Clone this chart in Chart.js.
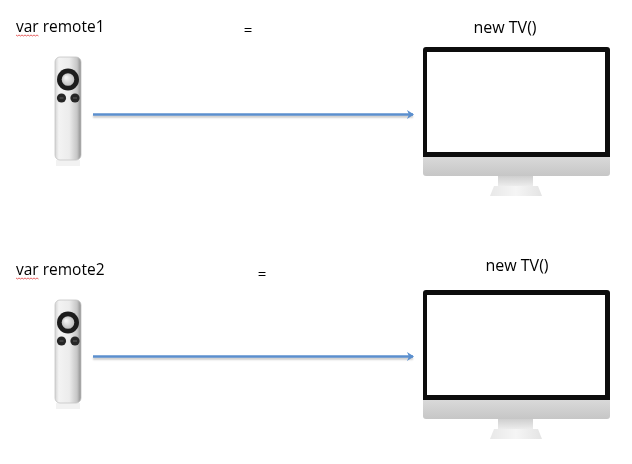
<!DOCTYPE html>
<html>
<head>
<meta charset="utf-8">
<script src="https://cdn.jsdelivr.net/npm/chart.js@4"></script>
<style>
  html, body { margin: 0; padding: 0; background: #fff; overflow: hidden; }
  canvas { display: block; }
</style>
</head>
<body>
<canvas id="diagram" width="632" height="464"></canvas>
<script>
// one row per remote -> TV assignment
const rowNames = ["var remote1", "var remote2"];
const tvNames = ["new TV()", "new TV()"];
const arrowStart = [93, 93];
const arrowEnd = [413, 413];
const arrowLevel = [114.5, 356.5];
const nameBase = [32, 275];
const equalsX = [248, 262];
const equalsY = [31, 275];
const tvNameX = [505, 517];
const tvNameY = [28, 266];
const remoteTop = [57, 300];
const screenTop = [47, 290];

const diagramPlugin = {
  id: "diagram",
  beforeDatasetDraw(chart) {
    const ctx = chart.ctx;
    ctx.save();
    ctx.shadowColor = "rgba(0,0,0,0.22)";
    ctx.shadowOffsetY = 2;
    ctx.shadowBlur = 2;
  },
  afterDatasetDraw(chart, args) {
    const ctx = chart.ctx;
    ctx.restore();
    // arrow head at the end of the line
    const pts = args.meta.data;
    const end = pts[pts.length - 1];
    ctx.save();
    ctx.fillStyle = "#5b8fce";
    ctx.beginPath();
    ctx.moveTo(end.x + 1, end.y);
    ctx.lineTo(end.x - 6, end.y - 4.5);
    ctx.lineTo(end.x - 4, end.y);
    ctx.lineTo(end.x - 6, end.y + 4.5);
    ctx.closePath();
    ctx.fill();
    ctx.restore();
  },
  beforeDatasetsDraw(chart) {
    const ctx = chart.ctx;
    const sx = chart.scales.x, sy = chart.scales.y;
    const px = v => sx.getPixelForValue(v);
    const py = v => sy.getPixelForValue(v);

    rowNames.forEach((name, i) => {
      // remote
      const rt = remoteTop[i];
      const x0 = px(55), x1 = px(81), y0 = py(rt), y1 = py(rt + 103);
      const shade = ctx.createLinearGradient(x0, 0, x1, 0);
      shade.addColorStop(0, "#d4d4d4");
      shade.addColorStop(0.15, "#f3f3f3");
      shade.addColorStop(0.55, "#ececec");
      shade.addColorStop(0.85, "#c6c6c6");
      shade.addColorStop(1, "#8c8c8c");
      ctx.fillStyle = "rgba(0,0,0,0.05)";
      ctx.fillRect(x0 + 1, y1, x1 - x0 - 2, 6);
      ctx.fillStyle = shade;
      ctx.strokeStyle = "#c4c4c4";
      ctx.lineWidth = 0.8;
      ctx.beginPath();
      ctx.roundRect(x0, y0, x1 - x0, y1 - y0, 5);
      ctx.fill();
      ctx.stroke();

      const cx = px(68), cy = py(rt + 22.5);
      ctx.fillStyle = "#1c1c1c";
      ctx.beginPath();
      ctx.arc(cx, cy, 11, 0, Math.PI * 2);
      ctx.fill();
      const inner = ctx.createRadialGradient(cx - 2, cy - 2, 1, cx, cy, 6.5);
      inner.addColorStop(0, "#f2f2f2");
      inner.addColorStop(1, "#bdbdbd");
      ctx.fillStyle = inner;
      ctx.beginPath();
      ctx.arc(cx, cy, 6.3, 0, Math.PI * 2);
      ctx.fill();

      [61.5, 75].forEach(bx => {
        ctx.fillStyle = "#262626";
        ctx.beginPath();
        ctx.arc(px(bx), py(rt + 41), 4.6, 0, Math.PI * 2);
        ctx.fill();
        ctx.fillStyle = "#4a4a4a";
        ctx.fillRect(px(bx) - 2, py(rt + 41) - 0.8, 4, 1.6);
      });

      // TV
      const st = screenTop[i];
      const l = px(423), r = px(610);
      ctx.fillStyle = "#0d0d0d";
      ctx.beginPath();
      ctx.roundRect(l, py(st), r - l, py(st + 110) - py(st), [3, 3, 0, 0]);
      ctx.fill();
      ctx.fillStyle = "#ffffff";
      ctx.fillRect(px(427), py(st + 5), px(605) - px(427), py(st + 105) - py(st + 5));

      const chin = ctx.createLinearGradient(0, py(st + 110), 0, py(st + 129));
      chin.addColorStop(0, "#d9d9d9");
      chin.addColorStop(1, "#c6c6c6");
      ctx.fillStyle = chin;
      ctx.beginPath();
      ctx.roundRect(l, py(st + 110), r - l, py(st + 129) - py(st + 110), [0, 0, 3, 3]);
      ctx.fill();

      const neck = ctx.createLinearGradient(0, py(st + 129), 0, py(st + 139));
      neck.addColorStop(0, "#cfcfcf");
      neck.addColorStop(1, "#ececec");
      ctx.fillStyle = neck;
      ctx.fillRect(px(498), py(st + 129), px(533) - px(498), py(st + 139) - py(st + 129));
      const base = ctx.createLinearGradient(px(490), 0, px(542), 0);
      base.addColorStop(0, "#e8e8e8");
      base.addColorStop(0.5, "#f5f5f5");
      base.addColorStop(1, "#e4e4e4");
      ctx.fillStyle = base;
      ctx.beginPath();
      ctx.moveTo(px(494), py(st + 139));
      ctx.lineTo(px(538), py(st + 139));
      ctx.lineTo(px(542), py(st + 149));
      ctx.lineTo(px(490), py(st + 149));
      ctx.closePath();
      ctx.fill();
    });
  },
  afterDraw(chart) {
    const ctx = chart.ctx;
    const sx = chart.scales.x, sy = chart.scales.y;
    const px = v => sx.getPixelForValue(v);
    const py = v => sy.getPixelForValue(v);
    ctx.save();
    ctx.fillStyle = "#000";
    ctx.textBaseline = "alphabetic";
    rowNames.forEach((name, i) => {
      ctx.font = "15.5px 'Open Sans'";
      ctx.textAlign = "left";
      ctx.fillText(name, px(16), py(nameBase[i]));
      // spell-check squiggle under "var"
      const w = ctx.measureText("var").width;
      ctx.strokeStyle = "#e03c3c";
      ctx.lineWidth = 0.8;
      ctx.beginPath();
      const yy = py(nameBase[i]) + 3;
      for (let k = 0; k <= w; k += 1.5) {
        const yk = yy + ((k / 1.5) % 2 ? 1 : 0);
        if (k === 0) ctx.moveTo(px(16) + k, yk); else ctx.lineTo(px(16) + k, yk);
      }
      ctx.stroke();

      ctx.textAlign = "center";
      ctx.textBaseline = "middle";
      ctx.font = "15px 'Open Sans'";
      ctx.fillText("=", px(equalsX[i]), py(equalsY[i]));
      ctx.font = "16px 'Open Sans'";
      ctx.fillText(tvNames[i], px(tvNameX[i]), py(tvNameY[i]));
      ctx.textBaseline = "alphabetic";
    });
    ctx.restore();
  }
};

new Chart(document.getElementById("diagram"), {
  type: "scatter",
  data: {
    datasets: rowNames.map((name, i) => ({
      type: "line",
      label: name,
      data: [
        { x: arrowStart[i], y: arrowLevel[i] },
        { x: arrowEnd[i], y: arrowLevel[i] },
      ],
      borderColor: "#5b8fce",
      borderWidth: 2.5,
      pointRadius: 0,
      fill: false,
    })),
  },
  options: {
    responsive: false,
    animation: false,
    layout: { padding: 0 },
    plugins: { legend: { display: false }, tooltip: { enabled: false } },
    scales: {
      x: { type: "linear", display: false, min: 0, max: 632 },
      y: { type: "linear", display: false, min: 0, max: 464, reverse: true },
    },
  },
  plugins: [diagramPlugin],
});
</script>
</body>
</html>
